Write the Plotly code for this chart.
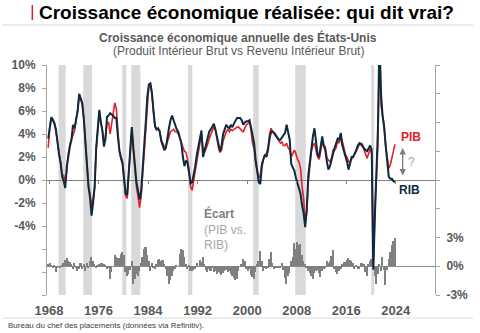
import pandas as pd
import plotly.graph_objects as go

# ---------------- data (quarterly, 1967Q4 - 2023Q4) ----------------
quarters = pd.period_range("1967Q4", "2023Q4", freq="Q")

rib = [
    3.6,
    4.8, 5.45, 5.2, 4.9,      # 1968
    4.4, 3.0, 2.2, 1.5,       # 1969
    0.3, -0.1, -0.7, 1.2,     # 1970
    2.3, 2.9, 3.5, 4.8,       # 1971
    4.5, 5.4, 6.0, 7.5,       # 1972
    7.0, 6.7, 5.3, 3.0,       # 1973
    0.6, -0.6, -1.5, -3.1,    # 1974
    -2.0, -0.6, 2.8, 4.8,     # 1975
    6.1, 5.0, 4.3, 2.9,       # 1976
    3.6, 5.5, 5.6, 5.8,       # 1977
    5.7, 5.6, 5.4, 5.4,       # 1978
    3.8, 2.6, 2.0, 1.5,       # 1979
    0.1, -1.2, -1.3, 0.6,     # 1980
    2.4, 4.6, 2.8, 1.0,       # 1981
    -0.2, -0.9, -1.7, -1.0,   # 1982
    0.8, 2.8, 5.0, 7.2,       # 1983
    8.3, 8.4, 7.6, 6.0,       # 1984
    4.7, 4.4, 4.5, 4.2,       # 1985
    3.4, 3.0, 2.6, 2.8,       # 1986
    3.8, 4.5, 5.2, 5.6,       # 1987
    5.2, 4.7, 4.4, 4.2,       # 1988
    3.8, 3.2, 2.0, 1.2,       # 1989
    1.7, 1.5, 0.6, -0.3,      # 1990
    -0.2, 0.4, 1.2, 2.2,      # 1991
    2.9, 3.6, 4.3, 2.0,       # 1992
    2.6, 3.0, 3.6, 4.2,       # 1993
    4.4, 4.7, 4.9, 4.4,       # 1994
    3.8, 3.0, 2.5, 3.0,       # 1995
    4.0, 4.4, 4.8, 4.6,       # 1996
    4.5, 4.8, 4.6, 4.9,       # 1997
    5.2, 5.4, 5.4, 5.4,       # 1998
    5.2, 4.8, 5.0, 5.1,       # 1999
    5.1, 5.2, 4.6, 3.8,       # 2000
    3.2, 1.8, 0.6, -0.2,      # 2001
    -0.35, 1.2, 1.8, 2.2,     # 2002
    2.0, 2.6, 3.6, 4.2,       # 2003
    4.2, 4.1, 3.9, 3.7,       # 2004
    3.5, 3.5, 3.7, 3.8,       # 2005
    4.1, 4.8, 4.0, 3.5,       # 2006
    1.4, 1.1, 0.8, 0.2,       # 2007
    -0.3, -0.7, -1.2, -2.2,   # 2008
    -2.9, -4.1, -2.6, 0.4,    # 2009
    1.6, 2.9, 3.8, 4.5,       # 2010
    3.0, 2.2, 2.0, 3.0,       # 2011
    3.8, 3.0, 2.6, 1.6,       # 2012
    0.9, 1.2, 1.8, 2.3,       # 2013
    2.8, 3.2, 3.6, 3.5,       # 2014
    4.1, 3.0, 2.6, 2.0,       # 2015
    1.6, 0.9, 1.4, 2.0,       # 2016
    2.0, 2.4, 2.6, 3.0,       # 2017
    3.2, 3.1, 2.9, 2.8,       # 2018
    2.6, 2.5, 2.8, 3.0,       # 2019
    2.6, -7.8, -3.3, 0.1,     # 2020
    4.5, 12.5, 7.5, 5.6,      # 2021
    4.6, 3.0, 1.8, 0.3,       # 2022
    0.1, 0.1, -0.1, -0.2,     # 2023
]

pib = [
    2.8,
    4.6, 5.4, 5.3, 5.0,       # 1968
    4.2, 3.1, 2.3, 1.5,       # 1969
    0.4, 0.4, -0.2, 0.8,      # 1970
    2.3, 3.1, 3.5, 4.0,       # 1971
    4.3, 5.2, 6.0, 7.3,       # 1972
    7.0, 6.6, 5.3, 3.2,       # 1973
    0.9, -0.4, -1.2, -2.3,    # 1974
    -1.6, -0.6, 2.6, 4.3,     # 1975
    6.0, 5.0, 4.3, 3.2,       # 1976
    3.8, 5.0, 5.0, 4.0,       # 1977
    5.0, 5.8, 6.7, 6.2,       # 1978
    4.0, 2.4, 1.8, 1.4,       # 1979
    0.2, -1.4, -1.6, 0.3,     # 1980
    2.4, 4.4, 2.6, 0.7,       # 1981
    -0.6, -1.4, -2.4, -1.5,   # 1982
    0.5, 2.6, 4.8, 7.0,       # 1983
    8.2, 8.3, 7.4, 5.9,       # 1984
    4.6, 4.4, 4.4, 4.3,       # 1985
    3.5, 3.2, 2.9, 2.9,       # 1986
    3.4, 3.8, 4.2, 4.3,       # 1987
    4.4, 4.2, 4.2, 4.0,       # 1988
    3.6, 3.3, 2.8, 2.5,       # 1989
    2.4, 1.8, 0.8, -0.6,      # 1990
    -0.9, -0.2, 0.8, 1.6,     # 1991
    2.6, 3.2, 3.9, 2.8,       # 1992
    2.4, 2.7, 3.1, 3.6,       # 1993
    4.0, 4.4, 4.6, 4.4,       # 1994
    3.6, 2.8, 2.4, 2.6,       # 1995
    3.4, 3.9, 4.2, 4.4,       # 1996
    4.2, 4.4, 4.3, 4.4,       # 1997
    4.5, 4.6, 4.6, 4.4,       # 1998
    4.3, 4.2, 4.6, 4.8,       # 1999
    4.9, 5.1, 4.3, 3.2,       # 2000
    2.7, 1.4, 0.8, 0.2,       # 2001
    0.4, 1.5, 1.8, 2.2,       # 2002
    2.3, 2.8, 4.0, 4.5,       # 2003
    4.2, 4.0, 3.8, 3.5,       # 2004
    3.3, 3.2, 3.3, 3.0,       # 2005
    3.0, 3.2, 2.8, 2.6,       # 2006
    2.0, 2.3, 2.6, 2.3,       # 2007
    1.8, 1.6, 1.0, -0.6,      # 2008
    -1.6, -3.8, -2.8, -0.2,   # 2009
    1.2, 2.5, 3.0, 3.2,       # 2010
    2.6, 2.0, 1.8, 2.4,       # 2011
    3.2, 3.0, 2.9, 2.0,       # 2012
    1.7, 1.6, 1.9, 2.6,       # 2013
    2.6, 2.8, 3.4, 3.2,       # 2014
    3.8, 3.4, 2.9, 2.2,       # 2015
    2.0, 1.6, 1.6, 1.8,       # 2016
    2.0, 2.2, 2.5, 2.8,       # 2017
    3.1, 3.2, 3.1, 2.6,       # 2018
    2.3, 1.9, 2.3, 2.7,       # 2019
    2.3, -7.5, -2.6, -0.2,    # 2020
    3.0, 12.0, 6.5, 5.6,      # 2021
    4.8, 3.0, 1.9, 1.0,       # 2022
    1.3, 2.0, 2.6, 3.1,       # 2023
]

ecart = [
    0.2,
    0.3, 0.1, -0.2, 0.1,      # 1968
    -0.6, -0.2, 0.0, -0.1,    # 1969
    0.1, 0.3, 0.7, 0.9,       # 1970
    0.6, 0.4, 0.2, -0.3,      # 1971
    0.3, -0.2, -0.5, -0.3,    # 1972
    0.3, -0.3, 0.2, -0.5,     # 1973
    0.3, -0.2, 0.6, 1.0,      # 1974
    0.5, 0.2, -0.2, 0.1,      # 1975
    0.2, 0.3, 0.3, 0.2,       # 1976
    0.1, -0.3, -0.2, -1.3,    # 1977
    -0.6, 0.0, 1.2, 1.0,      # 1978
    0.9, 0.9, 1.3, 1.5,       # 1979
    1.2, -0.6, -1.0, -0.8,    # 1980
    -0.4, 0.5, -1.8, -1.3,    # 1981
    -0.8, -1.0, -0.5, 0.3,    # 1982
    1.0, 1.8, 2.0, 1.2,       # 1983
    0.5, -0.5, 0.3, -0.2,     # 1984
    -0.3, 0.2, 0.7, 0.8,      # 1985
    0.6, 0.7, 0.2, -0.3,      # 1986
    -1.0, -1.8, -1.4, -1.0,   # 1987
    -0.5, -0.3, 0.1, 0.0,     # 1988
    1.3, 1.8, 1.7, 1.0,       # 1989
    0.2, -0.3, 0.1, -0.5,     # 1990
    -0.5, -0.4, -0.3, 0.3,    # 1991
    0.0, 0.7, 0.4, 1.0,       # 1992
    0.2, -0.4, -0.6, -0.3,    # 1993
    -0.5, -0.2, -0.6, -0.5,   # 1994
    -0.8, -0.6, -0.7, -0.9,   # 1995
    -0.7, -0.5, -0.4, -0.6,   # 1996
    -0.5, -0.8, -1.0, -1.2,   # 1997
    -1.4, -1.3, -0.5, 0.0,    # 1998
    0.2, 0.8, 0.5, -0.3,      # 1999
    -0.5, -0.3, -0.9, -1.1,   # 2000
    -1.3, -0.6, 0.2, 0.6,     # 2001
    1.6, 0.5, -0.5, -0.2,     # 2002
    -0.3, -0.1, 0.8, 1.5,     # 2003
    0.3, -0.3, -0.2, -0.2,    # 2004
    -0.1, -0.2, 0.3, -0.4,    # 2005
    -1.2, -1.8, -1.0, -0.7,   # 2006
    0.5, 1.0, 2.4, 1.8,       # 2007
    2.5, 2.2, 2.3, 1.2,       # 2008
    0.5, 0.2, -0.2, -0.5,     # 2009
    -0.7, -1.0, -1.3, -0.7,   # 2010
    -0.5, -0.4, -0.7, -1.1,   # 2011
    -0.5, -0.3, -0.2, 0.6,    # 2012
    0.3, 0.5, 1.1, 1.7,       # 2013
    -0.3, -0.6, -0.8, -0.5,   # 2014
    -0.3, 0.2, 0.4, 0.4,      # 2015
    0.7, 0.9, 0.7, 0.6,       # 2016
    0.3, -0.3, 0.1, -0.3,     # 2017
    -0.3, 0.3, 0.3, 0.2,      # 2018
    -0.6, -1.0, 0.2, 0.5,     # 2019
    0.8, 0.3, -1.0, -1.8,     # 2020
    -0.8, 0.2, -0.5, 1.0,     # 2021
    -0.4, -2.0, -0.4, 0.8,    # 2022
    1.5, 2.2, 2.6, 3.0,       # 2023
]

rec_start = ["1969-07-15", "1973-07-15", "1979-11-05", "1981-04-15",
             "1990-06-20", "2000-12-20", "2007-10-05", "2020-01-20"]
rec_end = ["1970-09-10", "1974-12-15", "1980-06-30", "1982-10-01",
           "1991-02-25", "2001-11-10", "2009-06-15", "2020-07-10"]

year_ticks = ["1968", "1976", "1984", "1992", "2000", "2008", "2016", "2024"]
left_ticks = [-10, -8, -6, -4, -2, 0, 2, 4, 6, 8, 10]
left_labels = ["", "", "", "-4%", "-2%", "0%", "2%", "4%", "6%", "8%", "10%"]
right_ticks = [-3, 0, 3, 6, 9, 12, 15, 18, 21]
right_labels = ["-3%", "0%", "3%", "", "", "", "", "", ""]

# ---------------- figure ----------------
dates = [p.start_time + (p.end_time - p.start_time) / 2 for p in quarters]
tick_dates = [f"{y}-01-01" for y in year_ticks]
x_range = ["1967-09-05", "2030-05-05"]

FONT = "Liberation Sans, Arial, sans-serif"
RED = "#e3202a"
NAVY = "#0c2b3e"
GREY_TXT = "#595959"
AXIS = "#a6a6a6"

fig = go.Figure()

fig.add_trace(go.Bar(x=dates, y=ecart, marker=dict(color="#7f7f7f", line=dict(width=0)),
                     xaxis="x", yaxis="y", hoverinfo="skip", showlegend=False))
fig.add_trace(go.Scatter(x=dates, y=pib, mode="lines", line=dict(color=RED, width=1.6),
                         xaxis="x", yaxis="y2", showlegend=False))
fig.add_trace(go.Scatter(x=dates, y=rib, mode="lines", line=dict(color=NAVY, width=2),
                         xaxis="x", yaxis="y2", showlegend=False))
# carrier for the tick marks on the zero line
fig.add_trace(go.Scatter(x=[dates[0]], y=[None], mode="lines", xaxis="x2", yaxis="y2",
                         showlegend=False, hoverinfo="skip"))

shapes = []
for s, e in zip(rec_start, rec_end):
    shapes.append(dict(type="rect", xref="x", yref="paper", x0=s, x1=e, y0=0, y1=1,
                       fillcolor="#d9d9d9", line=dict(width=0), layer="below"))

W, H = 480, 333
L, R, T, B = 45, 39, 65, 38
pw, ph = W - L - R, H - T - B


def px(x):
    return (x - L) / pw


def py(y):
    return (H - B - y) / ph


# title decorations
shapes.append(dict(type="line", xref="paper", yref="paper", x0=px(30), x1=px(30),
                   y0=py(5), y1=py(20), line=dict(color=RED, width=1.5)))
shapes.append(dict(type="line", xref="paper", yref="paper", x0=px(0), x1=px(480),
                   y0=py(25), y1=py(25), line=dict(color="#d9d9d9", width=1)))
shapes.append(dict(type="line", xref="paper", yref="paper", x0=px(0), x1=px(480),
                   y0=py(318), y1=py(318), line=dict(color="#d9d9d9", width=1)))

ann = [
    dict(text="<b>Croissance économique réalisée: qui dit vrai?</b>", x=px(35), y=py(12),
         xanchor="left", yanchor="middle", font=dict(size=19, color="#000000")),
    dict(text="<b>Croissance économique annuelle des États-Unis</b>", x=px(240), y=py(37),
         xanchor="center", yanchor="middle", font=dict(size=12, color=GREY_TXT)),
    dict(text="(Produit Intérieur Brut vs Revenu Intérieur Brut)", x=px(240), y=py(51),
         xanchor="center", yanchor="middle", font=dict(size=12, color=GREY_TXT)),
    dict(text="Bureau du chef des placements (données via Refinitiv).", x=px(3), y=py(325),
         xanchor="left", yanchor="middle", font=dict(size=8, color="#404040")),
    dict(text="<b>PIB</b>", x=px(416), y=py(137), xanchor="center", yanchor="middle",
         font=dict(size=12, color=RED)),
    dict(text="<b>RIB</b>", x=px(415), y=py(190), xanchor="center", yanchor="middle",
         font=dict(size=12, color=NAVY)),
    dict(text="?", x=px(417), y=py(162), xanchor="center", yanchor="middle",
         font=dict(size=12, color="#a6a6a6")),
    dict(text="<b><span style='color:#808080'>Écart</span></b><br>(PIB vs.<br>RIB)",
         x=px(203), y=py(229), xanchor="left", yanchor="middle", align="left",
         font=dict(size=12, color="#a6a6a6")),
    dict(text="", x=px(408), y=py(148), ax=0, ay=29, showarrow=True, arrowside="end+start",
         arrowhead=2, arrowsize=1, arrowwidth=1.3, arrowcolor="#7f7f7f", standoff=0,
         startstandoff=0),
]
for a in ann:
    a.setdefault("xref", "paper")
    a.setdefault("yref", "paper")
    a.setdefault("showarrow", False)

fig.update_layout(
    width=W, height=H,
    margin=dict(l=L, r=R, t=T, b=B, pad=0),
    paper_bgcolor="white", plot_bgcolor="white",
    font=dict(family=FONT, color=GREY_TXT),
    bargap=0,
    shapes=shapes,
    annotations=ann,
    xaxis=dict(type="date", range=x_range, tickvals=tick_dates, ticktext=year_ticks,
               showgrid=False, showline=False, zeroline=False, ticks="",
               ticklabelstandoff=6,
               tickfont=dict(size=13, color=GREY_TXT, family=FONT, weight="bold")),
    xaxis2=dict(type="date", range=x_range, tickvals=tick_dates, overlaying="x",
                anchor="free", position=0.5, showgrid=False, showline=False, zeroline=False,
                ticks="outside", ticklen=3, tickcolor="#7f7f7f", showticklabels=False),
    yaxis=dict(range=[-3, 21], tickvals=right_ticks, ticktext=right_labels, side="right",
               showgrid=False, showline=True, linecolor=AXIS, ticks="outside", ticklen=4,
               tickcolor=AXIS, zeroline=True, zerolinecolor="#8c8c8c", zerolinewidth=1,
               ticklabelstandoff=4,
               tickfont=dict(size=12, color=GREY_TXT, family=FONT, weight="bold")),
    yaxis2=dict(range=[-10, 10], tickvals=left_ticks, ticktext=left_labels, side="left",
                overlaying="y", showgrid=False, showline=True, linecolor=AXIS,
                ticks="outside", ticklen=4, tickcolor=AXIS, zeroline=True,
                zerolinecolor="#7f7f7f", zerolinewidth=1, ticklabelstandoff=4,
                tickfont=dict(size=12, color=GREY_TXT, family=FONT, weight="bold")),
)

fig.write_html("out.html")
